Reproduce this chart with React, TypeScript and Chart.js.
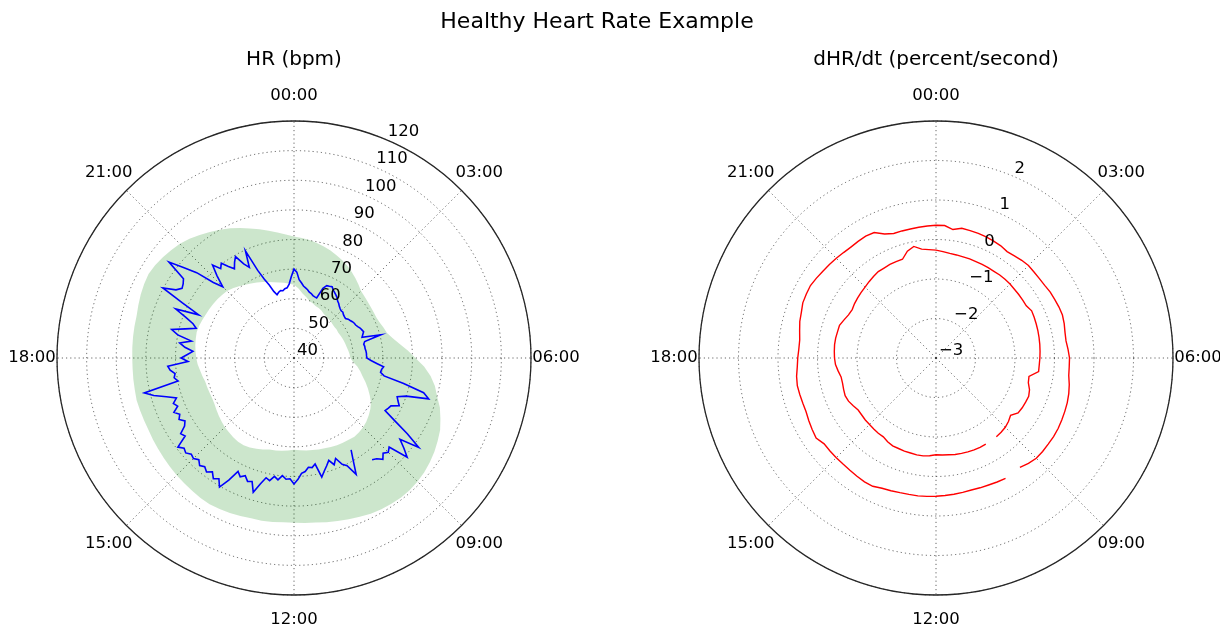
import React, { useEffect, useRef } from 'react';
import { Chart, registerables } from 'chart.js';

Chart.register(...registerables);

const FONT_FAMILY = '"DejaVu Sans", "Liberation Sans", sans-serif';
const W = 1220;
const H = 628;

const SUPTITLE = 'Healthy Heart Rate Example';
const HR_TITLE = 'HR (bpm)';
const DHR_TITLE = 'dHR/dt (percent/second)';
const HOUR_TICK_LABELS = ['00:00', '03:00', '06:00', '09:00', '12:00', '15:00', '18:00', '21:00'];
const HR_R_TICKS = [40, 50, 60, 70, 80, 90, 100, 110, 120];
const DHR_R_TICKS = [-3, -2, -1, 0, 1, 2];

const slotLabels = (count: number) =>
  Array.from({ length: count }, (_, i) => {
    const minutes = Math.round((i * 1440) / count);
    return `${String(Math.floor(minutes / 60)).padStart(2, '0')}:${String(minutes % 60).padStart(2, '0')}`;
  });

// time categories around the circle
const TIME_SLOTS_15 = slotLabels(96); // 15-minute slots
const TIME_SLOTS_7 = slotLabels(192); // 7.5-minute slots

// heart rate (bpm), one value per 7.5 minutes (one row per hour)
const HR_VALUES = [
  70, 69, 66.5, 65.5, 64.5, 64, 63.5, 62.8,
  62.5, 62, 61.8, 61.7, 65.5, 66.8, 67, 67.3,
  66.5, 66, 65.5, 65, 64.2, 63.8, 63.2, 62.8,
  62.5, 62.6, 62.2, 62, 61.9, 62.5, 62.8, 63.2,
  63.5, 63.6, 64, 64.5, 64.8, 65.1, 64.5, 64,
  70.3, 64.5, 64, 64.2, 64.2, 64.4, 64.5, 64.5,
  64.6, 66, 68, 70.4, 69.8, 69.6, 71, 78,
  85.3, 87.5, 80, 77.2, 78, 79, 76.5, 76,
  75.5, 80, 86, 91.8, 85.1, 88, 90.8, 84,
  85, 84, 85.5, 84, 83.3, null, null, 76.5,
  80, 84.5, 80.5, 79.4, 76.7, 78.5, 76.5, 78,
  79.5, 81.3, 76.5, 77.5, 77.2, 78.5, 79, 81,
  82.5, 80.8, 81, 79.9, 81.5, 80.5, 82.2, 81.5,
  84, 87.4, 84, 84.5, 83, 84, 82.7, 86.7,
  90.3, 88, 89, 87.3, 88.5, 87.5, 88.3, 87,
  88, 87.5, 88.6, 88, 89.4, 85.2, 86, 83.5,
  82.5, 84, 83, 84.5, 82.5, 83.5, 81.9, 85,
  89, 91.9, 79.9, 81, 80.5, 82, 82.7, 75.8,
  78.1, 76, 74.2, 77, 78.9, 75.1, 80, 82.4,
  78, 74.5, 76, 79, 83.2, 75.3, 82, 90.2,
  86, 84.5, 85, 85.9, 93.2, 88, 83.7, 77.3,
  74, 78, 81.7, 79, 80.3, 78, 76.2, 78,
  79.5, 76, 74.1, 79.7, 72, 68.4, 66, 63.5,
  62.1, 62.8, 63.2, 63, 63.6, 63.8, 65, 67.5,
];

// healthy range band (bpm), one value per 15 minutes
const HR_BAND_LOW = [
  64.7, 63.5, 62, 61,
  60, 59.5, 59, 58.8,
  58.5, 58, 57.8, 57.6,
  57.5, 57.3, 57.2, 57.3,
  57.2, 57.4, 57.6, 57.8,
  58, 58.2, 58.5, 58.8,
  59, 60, 61.5, 62.8,
  64, 65.5, 67, 68.5,
  70, 71, 71.8, 72.5,
  73, 73.3, 73.5, 73.2,
  73, 72.8, 72.5, 72.2,
  72, 71.7, 71.5, 71.2,
  71, 71.3, 71.6, 71.8,
  72, 72.6, 73.2, 73.7,
  74, 74, 73.7, 73.3,
  73, 72.5, 72, 71.5,
  71, 70.8, 70.8, 70.9,
  71, 71.5, 72, 72.6,
  73, 73.3, 73.6, 73.8,
  74, 73.8, 73.5, 73.2,
  73, 72.8, 72.6, 72.3,
  72, 71.3, 70.5, 69.7,
  69, 68.4, 67.8, 67.1,
  66.5, 66, 65.6, 65.1,
];

const HR_BAND_HIGH = [
  81, 80.6, 80.2, 79.6,
  79, 78.3, 77.5, 76.8,
  76, 75, 74, 73,
  72, 71.6, 71.3, 71.1,
  71, 71, 71.3, 71.9,
  72.5, 74, 76, 78.5,
  81, 84, 86.5, 88.5,
  90, 92, 93.5, 95,
  96, 97, 97.8, 98.5,
  99, 99.3, 99.4, 99.2,
  99, 98.6, 98, 97.5,
  97, 96.5, 96, 95.8,
  95.6, 95.6, 95.8, 96,
  96, 96.3, 96.6, 96.8,
  97, 96.8, 96.5, 96.2,
  96, 95.7, 95.4, 95.2,
  95, 94.8, 94.8, 94.9,
  95, 94.8, 94.7, 94.6,
  94.6, 94.7, 94.8, 94.9,
  95, 95.5, 96, 96.4,
  96.7, 96.4, 95.8, 95.2,
  94.5, 93.5, 92.3, 91.2,
  90, 88.8, 87.5, 86.2,
  85, 83.8, 82.7, 81.8,
];

// rate of change (percent/second): rising and falling traces, per 15 minutes
const DHR_UPPER = [
  0.36, 0.36, 0.28, 0.35,
  0.34, 0.33, 0.32, 0.3,
  0.28, 0.24, 0.26, 0.29,
  0.31, 0.3, 0.3, 0.31,
  0.34, 0.35, 0.37, 0.38,
  0.36, 0.33, 0.32, 0.35,
  0.38, 0.38, 0.39, 0.44,
  0.48, 0.51, 0.53, 0.55,
  0.57, 0.58, 0.58, 0.59,
  0.59, 0.55, 0.49, null,
  0.52, 0.5, 0.48, 0.47,
  0.46, 0.47, 0.48, 0.49,
  0.5, 0.51, 0.52, 0.52,
  0.53, 0.55, 0.57, 0.62,
  0.62, 0.6, 0.58, 0.57,
  0.57, 0.57, 0.57, 0.65,
  0.62, 0.59, 0.56, 0.56,
  0.57, 0.58, 0.56, 0.52,
  0.5, 0.48, 0.48, 0.52,
  0.57, 0.6, 0.65, 0.66,
  0.67, 0.64, 0.61, 0.59,
  0.57, 0.55, 0.54, 0.55,
  0.56, 0.54, 0.4, 0.33,
  0.33, 0.33, 0.34, 0.35,
];

const DHR_LOWER = [
  -0.27, -0.3, -0.33, -0.34,
  -0.35, -0.35, -0.36, -0.36,
  -0.36, -0.36, -0.35, -0.35,
  -0.35, -0.36, -0.36, -0.36,
  -0.36, -0.3, -0.31, -0.32,
  -0.33, -0.34, -0.35, -0.36,
  -0.37, -0.38, -0.38, -0.6,
  -0.58, -0.5, -0.46, -0.47,
  -0.48, -0.5, -0.62, -0.56,
  -0.52, -0.5, -0.49, null,
  -0.48, -0.48, -0.48, -0.49,
  -0.5, -0.51, -0.53, -0.54,
  -0.55, -0.52, -0.5, -0.5,
  -0.51, -0.51, -0.52, -0.52,
  -0.55, -0.6, -0.6, -0.61,
  -0.62, -0.62, -0.63, -0.63,
  -0.58, -0.53, -0.51, -0.53,
  -0.55, -0.55, -0.5, -0.45,
  -0.43, -0.42, -0.41, -0.41,
  -0.42, -0.42, -0.48, -0.53,
  -0.55, -0.52, -0.5, -0.48,
  -0.46, -0.43, -0.4, -0.37,
  -0.37, -0.36, -0.36, -0.36,
  -0.2, -0.12, -0.22, -0.25,
];

const fmtTick = (v: number) => (v < 0 ? '\u2212' + Math.abs(v) : String(v));

const polarDecor = {
  id: 'polarDecor',
  afterDraw(chart: any, _args: any, opts: any) {
    if (!opts || !opts.hourLabels) return;
    const s = chart.scales.r;
    const ctx = chart.ctx;
    const R = s.drawingArea;
    const cx = s.xCenter;
    const cy = s.yCenter;
    const n = chart.data.labels.length;
    ctx.save();
    ctx.setLineDash([]);
    ctx.strokeStyle = '#262626';
    ctx.lineWidth = 1.3;
    ctx.beginPath();
    ctx.arc(cx, cy, R, 0, Math.PI * 2);
    ctx.stroke();

    ctx.fillStyle = '#000';
    ctx.font = `16.5px ${FONT_FAMILY}`;
    ctx.textAlign = 'center';
    ctx.textBaseline = 'middle';
    const step = n / opts.hourLabels.length;
    opts.hourLabels.forEach((lab: string, k: number) => {
      const p = s.getPointPosition(k * step, R + 25);
      ctx.fillText(lab, p.x, p.y);
    });

    ctx.textAlign = 'left';
    ctx.textBaseline = 'alphabetic';
    const labelIdx = (n * 22.5) / 360;
    opts.radialTicks.forEach((v: number) => {
      const p = s.getPointPosition(labelIdx, s.getDistanceFromCenterForValue(v));
      ctx.fillText(fmtTick(v), p.x + 3, p.y - 3);
    });

    ctx.font = `20px ${FONT_FAMILY}`;
    ctx.textAlign = 'center';
    ctx.textBaseline = 'middle';
    ctx.fillText(opts.title, cx, cy - R - 61);

    if (opts.suptitle) {
      ctx.font = `22px ${FONT_FAMILY}`;
      ctx.fillText(opts.suptitle, opts.suptitleX, 22);
    }
    ctx.restore();
  },
};

const GRID_COLOR = 'rgba(0,0,0,0.6)';

const rScale = (min: number, max: number, step: number, show: boolean, n: number) => ({
  display: show,
  min,
  max,
  beginAtZero: false,
  ticks: { display: false, stepSize: step },
  pointLabels: { display: false },
  grid: { circular: true, color: GRID_COLOR, lineWidth: 1 },
  border: { dash: [1.2, 3] },
  angleLines: {
    display: true,
    color: GRID_COLOR,
    lineWidth: (c: any) => (c.index % (n / 8) === 0 ? 1 : 0),
    borderDash: [1.2, 3],
  },
});

const LEFT_PAD = { left: 57, right: 689, top: 121, bottom: 33 };
const RIGHT_PAD = { left: 699, right: 47, top: 121, bottom: 33 };

export default function App() {
  const bandRef = useRef<HTMLCanvasElement>(null);
  const hrRef = useRef<HTMLCanvasElement>(null);
  const rightRef = useRef<HTMLCanvasElement>(null);

  useEffect(() => {
    const common = {
      responsive: false,
      animation: false as const,
      devicePixelRatio: 1,
      events: [] as any[],
      elements: { point: { radius: 0 }, line: { tension: 0 } },
    };

    // grid + healthy band
    const band = new Chart(bandRef.current!, {
      type: 'radar',
      data: {
        labels: TIME_SLOTS_15,
        datasets: [
          {
            label: 'band high',
            data: HR_BAND_HIGH,
            borderColor: 'rgba(0,0,0,0)',
            borderWidth: 0,
            pointRadius: 0,
            fill: '+1',
            backgroundColor: 'rgba(0,128,0,0.2)',
          },
          {
            label: 'band low',
            data: HR_BAND_LOW,
            borderColor: 'rgba(0,0,0,0)',
            borderWidth: 0,
            pointRadius: 0,
            fill: false,
          },
        ],
      },
      options: {
        ...common,
        layout: { padding: LEFT_PAD },
        scales: { r: rScale(40, 120, 10, true, TIME_SLOTS_15.length) as any },
        plugins: { legend: { display: false }, tooltip: { enabled: false } },
      },
    } as any);

    // heart-rate trace + text
    const hr = new Chart(hrRef.current!, {
      type: 'radar',
      data: {
        labels: TIME_SLOTS_7,
        datasets: [
          {
            label: 'HR',
            data: HR_VALUES,
            borderColor: '#0000ff',
            borderWidth: 1.6,
            pointRadius: 0,
            fill: false,
            spanGaps: false,
          },
        ],
      },
      options: {
        ...common,
        layout: { padding: LEFT_PAD },
        scales: { r: rScale(40, 120, 10, false, TIME_SLOTS_7.length) as any },
        plugins: {
          legend: { display: false },
          tooltip: { enabled: false },
          polarDecor: {
            hourLabels: HOUR_TICK_LABELS,
            radialTicks: HR_R_TICKS,
            title: HR_TITLE,
            suptitle: SUPTITLE,
            suptitleX: 597,
          },
        } as any,
      },
      plugins: [polarDecor],
    } as any);

    const right = new Chart(rightRef.current!, {
      type: 'radar',
      data: {
        labels: TIME_SLOTS_15,
        datasets: [
          {
            label: 'rising',
            data: DHR_UPPER,
            borderColor: '#ff0000',
            borderWidth: 1.4,
            pointRadius: 0,
            fill: false,
            spanGaps: false,
          },
          {
            label: 'falling',
            data: DHR_LOWER,
            borderColor: '#ff0000',
            borderWidth: 1.4,
            pointRadius: 0,
            fill: false,
            spanGaps: false,
          },
        ],
      },
      options: {
        ...common,
        layout: { padding: RIGHT_PAD },
        scales: { r: rScale(-3, 3, 1, true, TIME_SLOTS_15.length) as any },
        plugins: {
          legend: { display: false },
          tooltip: { enabled: false },
          polarDecor: {
            hourLabels: HOUR_TICK_LABELS,
            radialTicks: DHR_R_TICKS,
            title: DHR_TITLE,
          },
        } as any,
      },
      plugins: [polarDecor],
    } as any);

    return () => {
      band.destroy();
      hr.destroy();
      right.destroy();
    };
  }, []);

  const layer = { position: 'absolute' as const, left: 0, top: 0 };
  return (
    <div style={{ position: 'absolute', left: 0, top: 0, width: W, height: H, background: '#fff' }}>
      <canvas ref={bandRef} width={W} height={H} style={layer} />
      <canvas ref={hrRef} width={W} height={H} style={layer} />
      <canvas ref={rightRef} width={W} height={H} style={layer} />
    </div>
  );
}
